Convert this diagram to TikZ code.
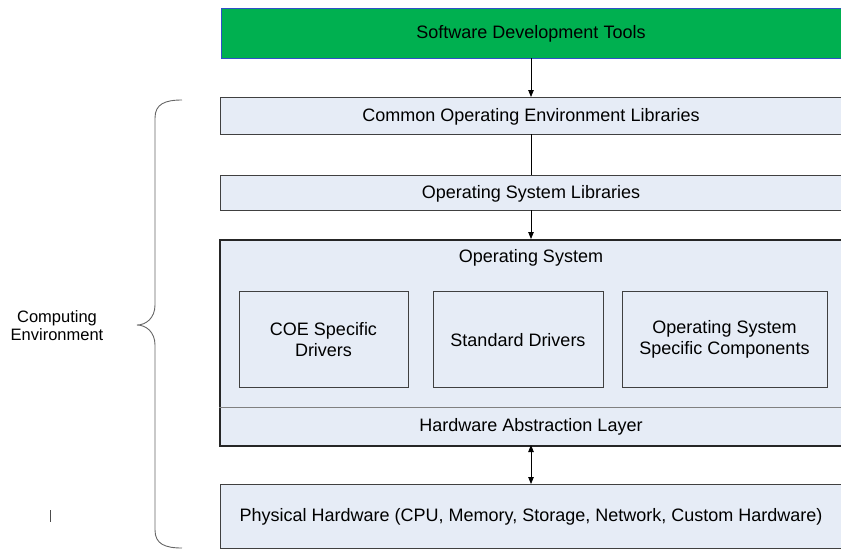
\documentclass[tikz,border=0pt]{standalone}
\usepackage{fontspec}
\setmainfont{Liberation Sans}
\usetikzlibrary{arrows.meta}
\definecolor{lay}{RGB}{230,236,246}
\definecolor{edge}{RGB}{64,64,64}
\definecolor{sdtgreen}{RGB}{0,176,80}
\definecolor{sdtedge}{RGB}{48,80,200}
\tikzset{
  layer/.style={draw=edge, line width=0.9pt, fill=lay, anchor=north west, inner sep=0pt, font=\fontsize{18}{21}\selectfont},
  inbox/.style={draw=edge, line width=0.9pt, fill=lay, anchor=north west, inner sep=0pt, align=center, font=\fontsize{18}{22}\selectfont},
  lbl/.style={inner sep=0pt, font=\fontsize{18}{21}\selectfont},
  conn/.style={line width=0.8pt, black},
  tip/.style={-{Triangle[length=7pt,width=5.5pt]}},
}
\begin{document}
\begin{tikzpicture}[x=1pt,y=-1pt]
\useasboundingbox (0,0) rectangle (841,550);
\clip (0,0) rectangle (841,550);
% top green box
\node[layer, fill=sdtgreen, draw=sdtedge, minimum width=623pt, minimum height=50pt] (sdt) at (221,8) {};
\node[lbl] at (531,33.5) {Software Development Tools};
% COE libraries
\node[layer, minimum width=623pt, minimum height=37pt] (coe) at (220,97) {};
\node[lbl] at (531,117) {Common Operating Environment Libraries};
% OS libraries
\node[layer, minimum width=623pt, minimum height=35pt] (osl) at (220,175) {};
\node[lbl] at (531,193.5) {Operating System Libraries};
% Operating system
\node[layer, draw=black!85, line width=1.6pt, minimum width=624pt, minimum height=206pt] (os) at (219,239) {};
\node[lbl] (ostitle) at (531,257.5) {Operating System};
\draw[gray, line width=0.9pt] (219,407) -- (843,407);
\node[lbl] (hal) at (531,426.5) {Hardware Abstraction Layer};
% inner boxes
\node[inbox, minimum width=169pt, minimum height=96pt] (d1) at (239,291) {};
\node[lbl, align=center] at (323.5,339.5) {COE Specific\\Drivers};
\node[inbox, minimum width=170pt, minimum height=96pt] (d2) at (433,291) {};
\node[lbl] at (518,340) {Standard Drivers};
\node[inbox, minimum width=205pt, minimum height=96pt] (d3) at (622,291) {};
\node[lbl, align=center] at (724.5,339.5) {Operating System\\Specific Components};
% physical hardware
\node[layer, minimum width=623pt, minimum height=64pt] (ph) at (220,484) {};
\node[lbl] at (531,517) {Physical Hardware (CPU, Memory, Storage, Network, Custom Hardware)};
% connectors
\coordinate (a1) at (531,58);
\coordinate (a2) at (531,97);
\coordinate (b1) at (531,134);
\coordinate (b2) at (531,175);
\coordinate (c1) at (531,210);
\coordinate (c2) at (531,239);
\coordinate (e1) at (531,445);
\coordinate (e2) at (531,484);
\draw[conn, tip] (a1) -- (a2);
\draw[conn] (b1) -- (b2);
\draw[conn, tip] (c1) -- (c2);
\draw[conn, {Triangle[length=7pt,width=5.5pt]}-{Triangle[length=7pt,width=5.5pt]}] (e1) -- (e2);
% brace
\draw[black!60, line width=0.9pt]
  (182,100) .. controls (165,100) and (155,104) .. (155,118)
  -- (155,305) .. controls (155,318) and (146,325) .. (137,325)
  .. controls (146,325) and (155,332) .. (155,345)
  -- (155,530) .. controls (155,544) and (165,548) .. (182,548);
\node[inner sep=0pt, align=center, font=\fontsize{16.5}{18}\selectfont] (ce) at (57,325.5) {Computing\\Environment};
\draw[black!70, line width=0.8pt] (50,510) -- (50,522);
\end{tikzpicture}
\end{document}
